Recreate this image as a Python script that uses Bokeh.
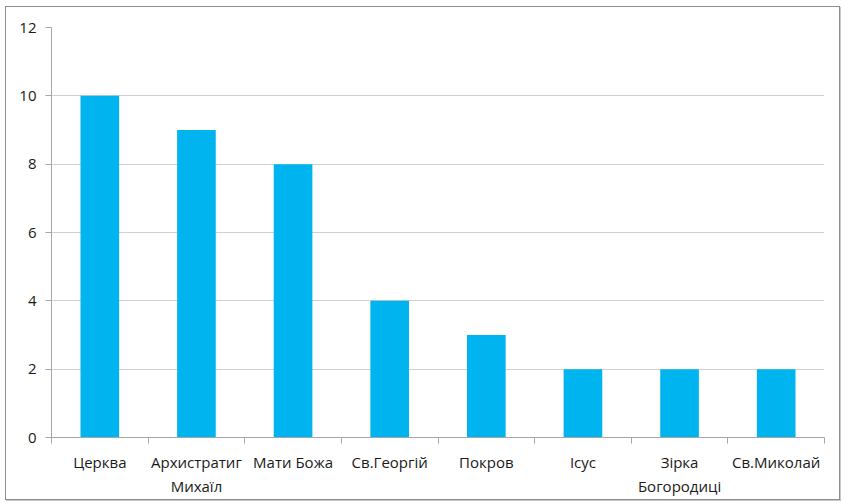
import numpy as np
from bokeh.plotting import figure
from bokeh.models import Range1d, FixedTicker, ColumnDataSource
from bokeh.embed import file_html
from bokeh.resources import INLINE

categories = ["Церква", "Архистратиг Михаїл", "Мати Божа", "Св.Георгій", "Покров", "Ісус", "Зірка Богородиці", "Св.Миколай"]
tick_labels = ["Церква", "Архистратиг\nМихаїл", "Мати Божа", "Св.Георгій", "Покров", "Ісус", "Зірка\nБогородиці", "Св.Миколай"]
values = [10, 9, 8, 4, 3, 2, 2, 2]
y_ticks = [0, 2, 4, 6, 8, 10, 12]

n = len(categories)
centers = np.arange(n) + 0.5
src = ColumnDataSource(dict(x=centers, top=values, cat=categories))

FONT = "Open Sans"

p = figure(width=835, height=494, output_backend="svg", toolbar_location=None,
           x_range=Range1d(0, n), y_range=Range1d(0, 12),
           min_border_left=45, min_border_right=17, min_border_top=20, min_border_bottom=64)
p.styles = {"border": "1px solid #8e8e8e", "box-shadow": "1px 1px 0 #c8c8c8",
            "margin-left": "5px", "margin-top": "6px"}
p.outline_line_color = None
p.background_fill_color = "white"
p.border_fill_color = "white"

p.vbar(x="x", top="top", width=0.4, bottom=0, source=src, color="#00B4F0", line_color=None)

# y axis
p.yaxis.ticker = FixedTicker(ticks=y_ticks, minor_ticks=[])
p.yaxis.axis_line_color = "#a6a6a6"
p.yaxis.major_tick_line_color = "#a6a6a6"
p.yaxis.major_tick_in = 0
p.yaxis.major_tick_out = 6
p.yaxis.minor_tick_line_color = None
p.yaxis.major_label_text_font = FONT
p.yaxis.major_label_text_font_size = "15px"
p.yaxis.major_label_text_color = "#1a1a1a"
p.yaxis.major_label_standoff = 9

# x axis
p.xaxis.ticker = FixedTicker(ticks=list(centers), minor_ticks=list(range(n + 1)))
p.xaxis.major_label_overrides = {float(c): lab for c, lab in zip(centers, tick_labels)}
p.xaxis.axis_line_color = "#a6a6a6"
p.xaxis.major_tick_line_color = None
p.xaxis.minor_tick_line_color = "#a6a6a6"
p.xaxis.minor_tick_in = 0
p.xaxis.minor_tick_out = 6
p.xaxis.major_label_text_font = FONT
p.xaxis.major_label_text_font_size = "15px"
p.xaxis.major_label_text_color = "#1a1a1a"
p.xaxis.major_label_standoff = 8

p.xgrid.grid_line_color = None
p.ygrid.ticker = FixedTicker(ticks=y_ticks)
p.ygrid.grid_line_color = "#d0d0d0"

open("out.html", "w").write(file_html(p, INLINE))
